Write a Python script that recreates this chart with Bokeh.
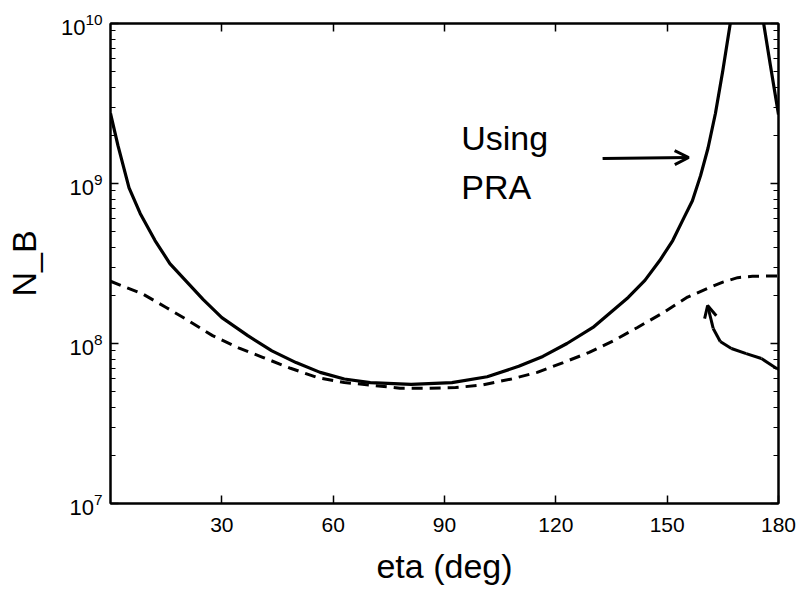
from bokeh.plotting import figure
from bokeh.models import (LinearAxis, LogAxis, FixedTicker, LogTicker, Label, Arrow,
                          OpenHead, CustomJSTickFormatter, LogTickFormatter, Range1d)
from bokeh.embed import file_html
from bokeh.resources import INLINE

# ---- data ----
eta_pra = [0, 2, 5, 8, 12, 16, 21, 25, 30, 37, 43.5, 50, 56.5, 63, 70, 81, 92, 101.5,
           110, 116.5, 123, 130, 139.5, 144, 148, 151.5, 154.5, 156.8, 159, 161, 163,
           165, 167, 168.5, 170, 172, 174, 176, 177.8, 180]
nb_pra = [2.74e9, 1.73e9, 9.4e8, 6.5e8, 4.4e8, 3.16e8, 2.37e8, 1.88e8, 1.45e8, 1.12e8,
          9.0e7, 7.6e7, 6.6e7, 6.0e7, 5.7e7, 5.55e7, 5.7e7, 6.2e7, 7.2e7, 8.3e7, 1.0e8,
          1.26e8, 1.94e8, 2.48e8, 3.3e8, 4.4e8, 6.1e8, 7.8e8, 1.12e9, 1.66e9, 2.74e9,
          5.08e9, 1.0e10, 1.4e10, 2.0e10, 2.6e10, 2.0e10, 1.0e10, 5.5e9, 2.7e9]

eta_exact = [0, 4, 8.5, 15, 21, 27.5, 34.5, 41, 48.5, 56, 63, 70, 78, 85.5, 93, 100,
             108, 115, 122, 129, 135.5, 142, 149, 155.5, 161.5, 165, 169, 173, 177, 180]
nb_exact = [2.45e8, 2.25e8, 2.05e8, 1.68e8, 1.39e8, 1.12e8, 9.4e7, 8.2e7, 7.0e7, 6.1e7,
            5.7e7, 5.5e7, 5.25e7, 5.25e7, 5.3e7, 5.5e7, 6.0e7, 6.6e7, 7.6e7, 8.8e7,
            1.04e8, 1.26e8, 1.56e8, 1.95e8, 2.24e8, 2.42e8, 2.58e8, 2.63e8, 2.64e8, 2.64e8]

x_ticks = [30, 60, 90, 120, 150, 180]
x_label = "eta (deg)"
y_label = "N_B"
note_lines = ["Using", "PRA"]

FONT = "Liberation Sans"

p = figure(width=798, height=602, y_axis_type="log", output_backend="svg",
           toolbar_location=None, x_range=Range1d(0, 180), y_range=Range1d(1e7, 1e10),
           min_border_left=110, min_border_right=20, min_border_top=23, min_border_bottom=99)
p.grid.visible = False
p.outline_line_color = "black"
p.outline_line_width = 2
p.background_fill_color = "white"
p.border_fill_color = "white"

p.line(eta_pra, nb_pra, line_color="black", line_width=3.2, line_join="round")
p.line(eta_exact, nb_exact, line_color="black", line_width=3, line_dash="11 7")

def style_axis(ax):
    ax.axis_line_width = 2
    ax.axis_line_color = "black"
    ax.major_tick_in = 8
    ax.major_tick_out = 0
    ax.minor_tick_in = 5
    ax.minor_tick_out = 0
    ax.major_tick_line_width = 1.5
    ax.minor_tick_line_width = 1.2
    ax.major_label_text_font = FONT
    ax.major_label_text_font_size = "21px"
    ax.major_label_text_color = "black"
    ax.axis_label_text_font = FONT
    ax.axis_label_text_font_style = "normal"
    ax.axis_label_text_font_size = "34px"
    ax.axis_label_text_color = "black"

# bottom axis
xa = p.xaxis[0]
xa.ticker = FixedTicker(ticks=x_ticks)
style_axis(xa)
xa.minor_tick_in = 0
xa.major_label_standoff = 14
xa.axis_label = x_label
xa.axis_label_standoff = 12

# left axis
ya = p.yaxis[0]
ya.ticker = LogTicker(num_minor_ticks=10)
ya.formatter = LogTickFormatter(min_exponent=0)
style_axis(ya)
ya.major_label_text_font_size = "22px"
ya.major_label_standoff = 8
ya.axis_label = y_label
ya.axis_label_standoff = 15

# top and right axes (ticks only)
blank = "return ''"
top = LinearAxis(ticker=FixedTicker(ticks=x_ticks), formatter=CustomJSTickFormatter(code=blank))
style_axis(top)
top.minor_tick_in = 0
p.add_layout(top, "above")
right = LogAxis(ticker=LogTicker(num_minor_ticks=10), formatter=CustomJSTickFormatter(code=blank))
style_axis(right)
p.add_layout(right, "right")

# handwritten note
p.add_layout(Label(x=94.5, y=10 ** 9.2875, text=note_lines[0], text_font=FONT,
                   text_font_size="34px", text_align="left", text_baseline="middle",
                   text_color="black"))
p.add_layout(Label(x=94.5, y=10 ** 8.98, text=note_lines[1], text_font=FONT,
                   text_font_size="34px", text_align="left", text_baseline="middle",
                   text_color="black"))
p.add_layout(Arrow(x_start=132.6, y_start=10 ** 9.156, x_end=155.8, y_end=10 ** 9.1625,
                   line_width=3, line_color="black",
                   end=OpenHead(size=14, line_width=3, line_color="black")))

# second hand-drawn arrow (curved)
ax_pts = [182.0, 179.5, 175.4, 171.3, 167.3, 164.3, 162.4, 160.9]
ay_pts = [10 ** 7.82, 10 ** 7.844, 10 ** 7.906, 10 ** 7.937, 10 ** 7.969, 10 ** 8.012,
          10 ** 8.094, 10 ** 8.2375]
for i in range(len(ax_pts) - 1):
    last = i == len(ax_pts) - 2
    p.add_layout(Arrow(x_start=ax_pts[i], y_start=ay_pts[i], x_end=ax_pts[i + 1],
                       y_end=ay_pts[i + 1], line_width=3, line_color="black",
                       end=OpenHead(size=12, line_width=3, line_color="black") if last else None))

open("out.html", "w").write(file_html(p, INLINE))
